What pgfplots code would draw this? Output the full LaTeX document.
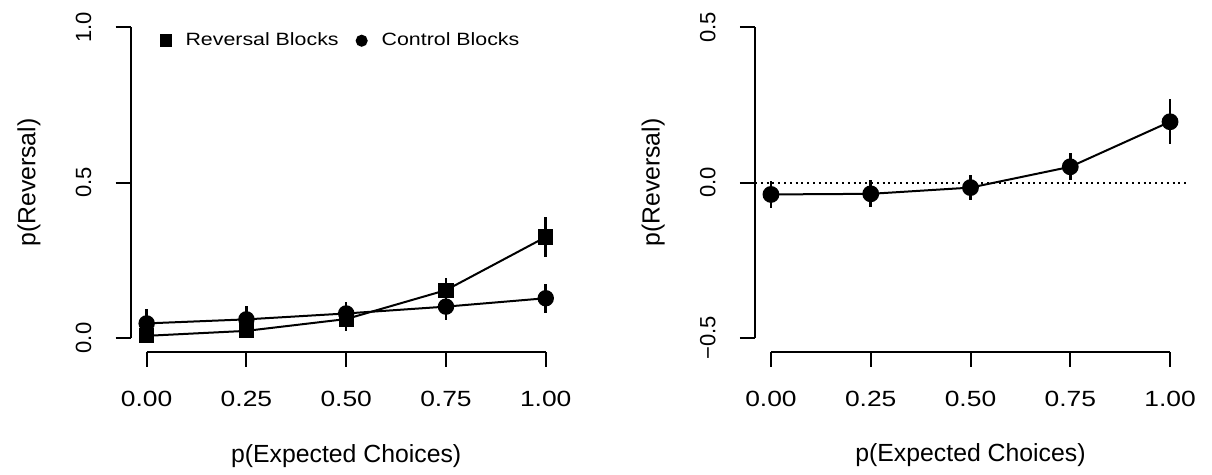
\documentclass[border=0pt]{standalone}
\usepackage{fontspec}
\setmainfont{Liberation Sans}[FakeStretch=1.2]
\newfontfamily\rotfont{Liberation Sans}
\usepackage{pgfplots}
\pgfplotsset{compat=1.18}

\pgfplotstableread{
x     y      e
0.00  0.007  0.012
0.25  0.023  0.020
0.50  0.061  0.037
0.75  0.154  0.038
1.00  0.325  0.065
}\reversal
\pgfplotstableread{
x     y      e
0.00  0.047  0.046
0.25  0.060  0.044
0.50  0.079  0.036
0.75  0.101  0.042
1.00  0.128  0.046
}\control
\pgfplotstableread{
x     y       e
0.00  -0.038  0.044
0.25  -0.036  0.043
0.50  -0.016  0.040
0.75   0.051  0.044
1.00   0.196  0.073
}\difference

\newcommand{\tickfont}{\fontsize{11}{12}\selectfont}
\newcommand{\labfont}{\rotfont\fontsize{12.4}{14}\selectfont}
\pgfplotsset{
  Rstyle/.style={
    scale only axis, width=215.5pt, height=169.35pt,
    xmin=-0.04, xmax=1.04,
    axis x line*=bottom, axis y line*=left,
    axis line style={draw=none},
    tick align=outside, major tick length=7.5pt,
    tick style={black, line width=1pt},
    xtick={0,0.25,0.5,0.75,1},
    xticklabels={0.00,0.25,0.50,0.75,1.00},
    xticklabel style={font=\tickfont, anchor=north, inner sep=0pt},
    xticklabel shift=11.8pt,
    yticklabel style={font=\rotfont\tickfont, rotate=90, anchor=south, inner sep=0pt},
    yticklabel shift=12pt,
    xlabel={p(Expected Choices)},
    ylabel={p(Reversal)},
    xlabel style={font=\labfont, at={(axis description cs:0.5,-0.3248)}, anchor=base},
    ylabel style={font=\labfont, at={(axis description cs:-0.236,0.5)}, anchor=center},
    clip=false,
  },
  datastyle/.style={black, line width=1pt,
    /pgfplots/error bars/y dir=both,
    /pgfplots/error bars/y explicit,
    /pgfplots/error bars/error mark=none,
    /pgfplots/error bars/error bar style={line width=1.3pt}},
}

\begin{document}
\begin{tikzpicture}
\useasboundingbox (0,0) rectangle (606pt,237.5pt);

\begin{axis}[Rstyle,
  at={(65.35pt,61.5pt)}, anchor=south west,
  ymin=-0.045, ymax=1.045,
  ytick={0,0.5,1}, yticklabels={0.0,0.5,1.0},
  legend style={draw=none, fill=none, at={(0.489,0.919)}, anchor=center,
    font=\fontsize{8.9}{10}\selectfont, legend columns=2,
    /tikz/every even column/.append style={column sep=6.5pt}},
]
\draw[line width=1pt] (axis cs:0,-0.045) -- (axis cs:1,-0.045);
\draw[line width=1pt] (axis cs:-0.04,0) -- (axis cs:-0.04,1);

\addplot[datastyle, mark=square*, mark size=3.3pt,
  legend image code/.code={\fill[black] (0pt,-2.65pt) rectangle (5.3pt,2.65pt); \path[draw=none] (0pt,0pt) -- (10.5pt,0pt);}]
  table[x=x, y=y, y error=e] {\reversal};
\addlegendentry{Reversal Blocks}
\addplot[datastyle, mark=*, mark size=3.6pt,
  legend image code/.code={\fill[black] (2.5pt,0pt) circle (2.5pt); \path[draw=none] (0pt,0pt) -- (10.5pt,0pt);}]
  table[x=x, y=y, y error=e] {\control};
\addlegendentry{Control Blocks}
\end{axis}

\begin{axis}[Rstyle,
  at={(377.5pt,61.5pt)}, anchor=south west,
  ymin=-0.545, ymax=0.545,
  ytick={-0.5,0,0.5}, yticklabels={−0.5,0.0,0.5},
]
\draw[line width=1pt] (axis cs:0,-0.545) -- (axis cs:1,-0.545);
\draw[line width=1pt] (axis cs:-0.04,-0.5) -- (axis cs:-0.04,0.5);
\addplot[black, line width=1pt, dash pattern=on 1pt off 1.9pt, forget plot]
  coordinates {(-0.04,0) (1.04,0)};
\addplot[datastyle, mark=*, mark size=3.7pt]
  table[x=x, y=y, y error=e] {\difference};
\end{axis}
\end{tikzpicture}
\end{document}
